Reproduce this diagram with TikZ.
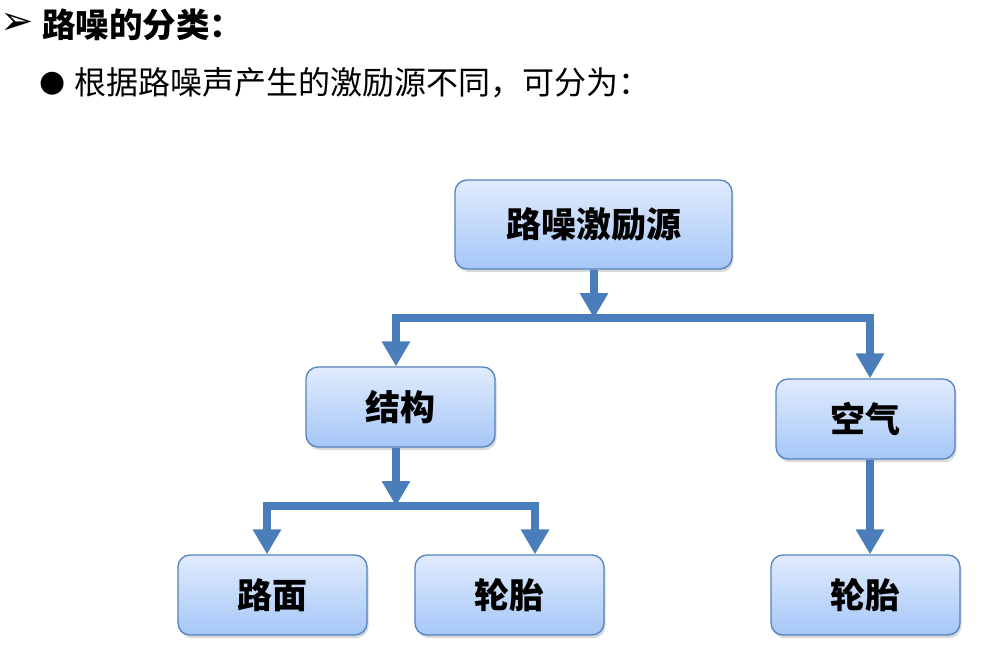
\documentclass[tikz,border=0pt]{standalone}
\usepackage{fontspec}
\usetikzlibrary{arrows.meta,shadows}
\newfontfamily\cjk{Noto Sans CJK SC}
\newfontfamily\dejavu{DejaVu Sans}
\definecolor{connc}{RGB}{74,126,187}
\definecolor{boxline}{RGB}{84,130,190}
\definecolor{boxtop}{RGB}{224,235,252}
\definecolor{boxbot}{RGB}{166,199,248}
\begin{document}
\begin{tikzpicture}[x=1pt,y=-1pt,
  box/.style={draw=boxline, line width=1.3pt, rounded corners=12pt,
    top color=boxtop, bottom color=boxbot,
    drop shadow={opacity=0.3, shadow xshift=1.5pt, shadow yshift=-3pt, fill=gray},
    font=\cjk\bfseries\fontsize{35}{40}\selectfont, inner sep=0pt},
  arr/.style={draw=connc, line width=8.5pt, -{Triangle[width=27pt,length=25pt]}},
  bar/.style={draw=connc, line width=8.5pt, line cap=rect},
  txt/.style={inner sep=0pt, anchor=west}]
\useasboundingbox (0,0) rectangle (991,656);
% header
\node[inner sep=0pt, font=\dejavu\fontsize{40}{44}\selectfont] (mk) at (17,24) {➢};
\node[txt, font=\cjk\bfseries\fontsize{33.5}{38}\selectfont] (head) at (42,25) {路噪的分类：};
\node[inner sep=0pt, font=\dejavu\fontsize{30}{34}\selectfont] (bul) at (53,84) {●};
\node[txt, font=\cjk\fontsize{32}{36}\selectfont] (line) at (74,83) {根据路噪声产生的激励源不同，可分为：};
% boxes
\node[box, minimum width=277pt, minimum height=89pt] (src) at (593.5,224.5) {路噪激励源};
\node[box, minimum width=189pt, minimum height=80pt] (jg) at (400.5,407) {结构};
\node[box, minimum width=179pt, minimum height=80pt] (kq) at (865.5,419) {空气};
\node[box, minimum width=189pt, minimum height=80pt] (lm) at (272.5,595) {路面};
\node[box, minimum width=189pt, minimum height=80pt] (lt1) at (509.5,595) {轮胎};
\node[box, minimum width=189pt, minimum height=80pt] (lt2) at (865.5,595) {轮胎};
% junction coordinates
\coordinate (j1) at (594,318);
\coordinate (j1l) at (396,318);
\coordinate (j1r) at (870,318);
\coordinate (j2) at (396,506);
\coordinate (j2l) at (267,506);
\coordinate (j2r) at (535,506);
% connectors
\draw[bar] (j1l) -- (j1r);
\draw[arr] (src.south -| j1) -- (j1);
\draw[arr] (j1l) -- (jg.north -| j1l);
\draw[arr] (j1r) -- (kq.north -| j1r);
\draw[bar] (j2l) -- (j2r);
\draw[arr] (jg.south -| j2) -- (j2);
\draw[arr] (j2l) -- (lm.north -| j2l);
\draw[arr] (j2r) -- (lt1.north -| j2r);
\draw[arr] (kq.south -| j1r) -- (lt2.north -| j1r);
\end{tikzpicture}
\end{document}
